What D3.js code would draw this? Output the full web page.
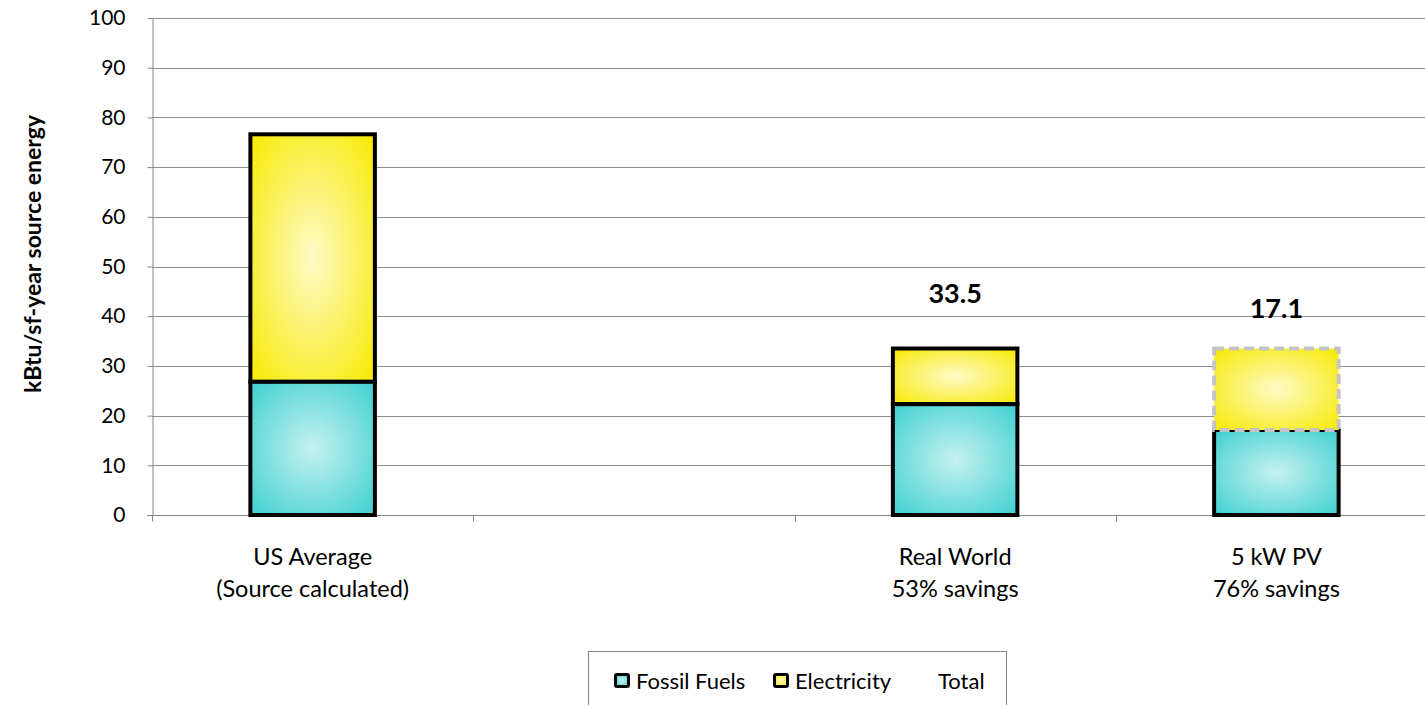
<!DOCTYPE html>
<html><head><meta charset="utf-8">
<script src="https://cdn.jsdelivr.net/npm/d3@7"></script>
<style>body{margin:0;background:#fff;}svg{display:block;font-family:Lato,"Liberation Sans",sans-serif;}</style>
</head><body>
<svg id="chart" width="1425" height="705"></svg>
<script>
const categories = ["US Average\n(Source calculated)", "", "Real World\n53% savings", "5 kW PV\n76% savings"];
const fossilFuels = [26.8, null, 22.3, 17.1];
const electricity = [49.8, null, 11.2, 16.4];
const electricityStyle = ["solid", null, "solid", "dashed"];
const totalLabels = [null, null, "33.5", "17.1"];
const totalLabelAt = [null, null, 44.7, 41.6];
const yTicks = [0,10,20,30,40,50,60,70,80,90,100];
const yTitle = "kBtu/sf-year source energy";
const legendItems = ["Fossil Fuels", "Electricity", "Total"];

const svg = d3.select("#chart");
const W = 1425, H = 705;
const x0 = 152, x1 = 1437, yTop = 18, yBot = 515;

const x = d3.scaleBand().domain(d3.range(categories.length)).range([x0, x1]).paddingInner(0).paddingOuter(0);
const y = d3.scaleLinear().domain([0, 100]).range([yBot, yTop]);

const defs = svg.append("defs");
function grad(id, edge, center) {
  const g = defs.append("radialGradient").attr("id", id).attr("cx","50%").attr("cy","50%").attr("r","70%");
  g.append("stop").attr("offset","0%").attr("stop-color",center);
  g.append("stop").attr("offset","100%").attr("stop-color",edge);
}
grad("gCyan", "#3fd0d0", "#c6f1f1");
grad("gYellow", "#f7ea00", "#fffac8");

// gridlines
svg.append("g").selectAll("line").data(yTicks.slice(1)).join("line")
  .attr("x1", x0).attr("x2", W).attr("y1", d => Math.round(y(d))+0.5).attr("y2", d => Math.round(y(d))+0.5)
  .attr("stroke", "#8c8c8c").attr("stroke-width", 1);

// y axis
const yAxis = d3.axisLeft(y).tickValues(yTicks).tickSize(5).tickSizeOuter(0).tickPadding(22);
const gy = svg.append("g").attr("transform", `translate(${x0+0.5},0)`).call(yAxis);
gy.select(".domain").attr("stroke", "#868686");
gy.selectAll(".tick line").attr("stroke", "#868686");
gy.selectAll(".tick text").attr("font-size", 21).attr("fill", "#000").attr("font-family","Lato,sans-serif");

// x axis
const gx = svg.append("g").attr("transform", `translate(0,${Math.round(yBot)+0.5})`);
gx.append("line").attr("x1", x0-5).attr("x2", W).attr("stroke", "#868686");
gx.selectAll(".tk").data(d3.range(categories.length+1)).join("line").attr("class","tk")
  .attr("x1", i => Math.round(x0 + i*x.bandwidth())+0.5).attr("x2", i => Math.round(x0 + i*x.bandwidth())+0.5)
  .attr("y1", 0).attr("y2", 6).attr("stroke", "#868686");

// category labels
const cl = svg.append("g").selectAll("text").data(categories).join("text")
  .attr("x", (d,i) => x(i) + x.bandwidth()/2).attr("y", 565)
  .attr("text-anchor", "middle").attr("font-size", 23.5).attr("fill", "#000");
cl.each(function(d){
  const t = d3.select(this);
  d.split("\n").forEach((line, k) => {
    if (line) t.append("tspan").attr("x", t.attr("x")).attr("dy", k===0 ? 0 : 32).text(line);
  });
});

// bars
const bw = x.bandwidth()*0.4;
const bars = svg.append("g");
categories.forEach((c, i) => {
  if (fossilFuels[i] == null) return;
  const cx = x(i) + x.bandwidth()/2;
  const f = fossilFuels[i], e = electricity[i];
  const er = bars.append("rect")
    .attr("x", cx - bw/2 + 2).attr("width", bw - 4)
    .attr("y", y(f+e)).attr("height", y(f) - y(f+e))
    .attr("fill", "url(#gYellow)");
  bars.append("rect")
    .attr("x", cx - bw/2 + 2).attr("width", bw - 4)
    .attr("y", y(f)).attr("height", y(0) - y(f))
    .attr("fill", "url(#gCyan)").attr("stroke", "#000").attr("stroke-width", 4);
  if (electricityStyle[i] === "dashed") {
    er.attr("stroke", "#c4c4c4").attr("stroke-width", 4).attr("stroke-dasharray", "10,5");
    er.raise();
  } else {
    er.attr("stroke", "#000").attr("stroke-width", 4);
  }
});

// total labels
svg.append("g").selectAll("text").data(totalLabels.map((t,i)=>({t,i})).filter(d=>d.t)).join("text")
  .attr("x", d => x(d.i) + x.bandwidth()/2).attr("y", d => y(totalLabelAt[d.i]) + 10)
  .attr("text-anchor", "middle").attr("font-size", 27).attr("font-weight", "bold").attr("fill", "#000")
  .text(d => d.t);

// y title
svg.append("text").attr("transform", `translate(41,254) rotate(-90)`)
  .attr("text-anchor", "middle").attr("font-size", 23).attr("font-weight", "bold").attr("fill","#000")
  .text(yTitle);

// legend
const lg = svg.append("g");
lg.append("rect").attr("x", 588.5).attr("y", 651.5).attr("width", 418).attr("height", 70)
  .attr("fill", "#fff").attr("stroke", "#868686");
const legX = [614, 773, 938];
const legFill = ["url(#gCyan)", "url(#gYellow)", null];
legendItems.forEach((name, k) => {
  if (legFill[k]) {
    lg.append("rect").attr("x", legX[k]+1.5).attr("y", 674.5).attr("width", 13).attr("height", 12)
      .attr("fill", legFill[k]).attr("stroke", "#000").attr("stroke-width", 3).attr("rx", 1.5);
  }
  lg.append("text").attr("x", legFill[k] ? legX[k] + 22 : legX[k]).attr("y", 689)
    .attr("font-size", 22).attr("fill", "#000").text(name);
});
</script>
</body></html>
